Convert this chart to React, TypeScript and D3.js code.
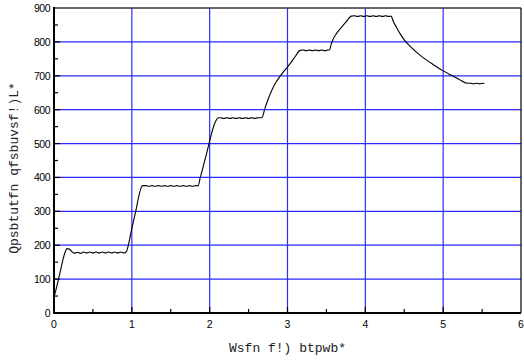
import React from 'react';
import * as d3 from 'd3';

// time (hours) / surface temperature (K)
const timeH = [
  0, 0.04, 0.08, 0.12, 0.15, 0.17, 0.2, 0.23, 0.26, 0.3, 0.34, 0.38, 0.42, 0.46, 0.5,
  0.54, 0.58, 0.62, 0.66, 0.7, 0.74, 0.78, 0.82, 0.86, 0.9, 0.93,
  0.96, 1.0, 1.05, 1.09, 1.12, 1.14,
  1.18, 1.22, 1.26, 1.3, 1.34, 1.38, 1.42, 1.46, 1.5, 1.54, 1.58, 1.62, 1.66, 1.7, 1.74, 1.78, 1.82, 1.85,
  1.88, 1.92, 1.96, 2.0, 2.04, 2.08, 2.11,
  2.14, 2.18, 2.22, 2.26, 2.3, 2.34, 2.38, 2.42, 2.46, 2.5, 2.54, 2.58, 2.62, 2.67,
  2.71, 2.75, 2.8, 2.85, 2.9, 2.95, 3.0, 3.05, 3.1, 3.16,
  3.2, 3.24, 3.28, 3.32, 3.36, 3.4, 3.44, 3.48, 3.52, 3.54,
  3.56, 3.58, 3.63, 3.69, 3.75, 3.82,
  3.86, 3.9, 3.94, 3.98, 4.02, 4.06, 4.1, 4.14, 4.18, 4.22, 4.26, 4.3, 4.33,
  4.36, 4.4, 4.45, 4.5, 4.58, 4.67, 4.77, 4.88, 4.99, 5.1, 5.2, 5.31,
  5.35, 5.39, 5.43, 5.47, 5.51, 5.53
];
const tempK = [
  46, 82, 122, 162, 184, 190, 188, 181, 176, 179, 176, 180, 177, 180, 177,
  180, 177, 180, 177, 180, 177, 180, 177, 180, 177, 181,
  205, 250, 300, 345, 370, 376,
  376, 374, 376, 374, 376, 374, 376, 374, 376, 374, 376, 374, 376, 374, 376, 374, 376, 375,
  400, 435, 470, 508, 543, 567, 576,
  576, 574, 576, 574, 576, 574, 576, 574, 576, 574, 576, 574, 576, 576,
  604, 630, 658, 680, 697, 712, 726, 741, 757, 775,
  776, 774, 776, 774, 776, 774, 776, 774, 776, 776,
  792, 805, 825, 842, 858, 876,
  877, 875, 877, 875, 877, 875, 877, 875, 877, 875, 877, 875, 876,
  860, 843, 823, 806, 786, 767, 749, 732, 716, 702, 690, 678,
  678, 676, 678, 676, 678, 677
];

const xTicks = [0, 1, 2, 3, 4, 5, 6];
const yTicks = [0, 100, 200, 300, 400, 500, 600, 700, 800, 900];
const xLabel = 'Wsfn f!) btpwb*';
const yLabel = 'Qpsbtutfn qfsbuvsf!)L*';

const W = 524;
const H = 362;
const m = { left: 54, right: 3, top: 8, bottom: 49 };

export default function App() {
  const x = d3.scaleLinear().domain([0, 6]).range([m.left, W - m.right]);
  const y = d3.scaleLinear().domain([0, 900]).range([H - m.bottom, m.top]);

  const pts = timeH.map((t, i) => [t, tempK[i]] as [number, number]);
  const line = d3.line<[number, number]>()
    .x(d => x(d[0]))
    .y(d => y(d[1]))
    .curve(d3.curveMonotoneX)(pts) || '';

  const xMinor = d3.range(0.5, 6, 1);
  const yMinor = d3.range(50, 900, 100);
  const x0 = x(0), x1 = x(6), y0 = y(0), y1 = y(900);
  const grid = '#2a2aff';

  return (
    <svg width={W} height={H} style={{ position: 'absolute', left: 0, top: 0, background: '#fff' }}>
      <rect x={0} y={0} width={W} height={H} fill="#fff" />
      {/* grid */}
      {xTicks.slice(1, -1).map(t => (
        <line key={'gx' + t} x1={x(t)} x2={x(t)} y1={y0} y2={y1} stroke={grid} strokeWidth={1.2} />
      ))}
      {yTicks.slice(1, -1).map(t => (
        <line key={'gy' + t} x1={x0} x2={x1} y1={y(t)} y2={y(t)} stroke={grid} strokeWidth={1.2} />
      ))}
      {/* frame */}
      <line x1={x0} x2={x1} y1={y1} y2={y1} stroke="#333" strokeWidth={1.5} />
      <line x1={x1} x2={x1} y1={y1} y2={y0} stroke="#000" strokeWidth={1.2} />
      <line x1={x0} x2={x0} y1={y1 - 1} y2={y0 + 1} stroke="#000" strokeWidth={2} />
      <line x1={x0 - 1} x2={x1} y1={y0} y2={y0} stroke="#000" strokeWidth={2} />
      {/* ticks */}
      {xTicks.slice(1, -1).map(t => (
        <line key={'tx' + t} x1={x(t)} x2={x(t)} y1={y0} y2={y0 - 6} stroke="#000" strokeWidth={1.2} />
      ))}
      {xMinor.map(t => (
        <line key={'mx' + t} x1={x(t)} x2={x(t)} y1={y0} y2={y0 - 4} stroke="#000" strokeWidth={1.2} />
      ))}
      {yTicks.slice(1, -1).map(t => (
        <line key={'ty' + t} x1={x0} x2={x0 + 6} y1={y(t)} y2={y(t)} stroke="#000" strokeWidth={1.2} />
      ))}
      {yMinor.map(t => (
        <line key={'my' + t} x1={x0} x2={x0 + 4} y1={y(t)} y2={y(t)} stroke="#000" strokeWidth={1.2} />
      ))}
      {/* tick labels */}
      <g fontFamily="Liberation Sans, Arial, sans-serif" fontSize={10.5} fill="#000">
        {xTicks.map(t => (
          <text key={'lx' + t} x={x(t)} y={y0 + 15} textAnchor="middle">{t}</text>
        ))}
        {yTicks.map(t => (
          <text key={'ly' + t} x={x0 - 4} y={y(t) + 4} textAnchor="end" letterSpacing={-0.5}>{t}</text>
        ))}
      </g>
      {/* axis titles */}
      <text x={(x0 + x1) / 2} y={352} textAnchor="middle" fontFamily="Liberation Mono, Courier New, monospace" fontSize={13} fill="#222">{xLabel}</text>
      <text transform={`translate(18,168) rotate(-90)`} textAnchor="middle" fontFamily="Liberation Mono, Courier New, monospace" fontSize={13} fill="#222">{yLabel}</text>
      {/* curve */}
      <path d={line} fill="none" stroke="#000" strokeWidth={1.1} />
    </svg>
  );
}
